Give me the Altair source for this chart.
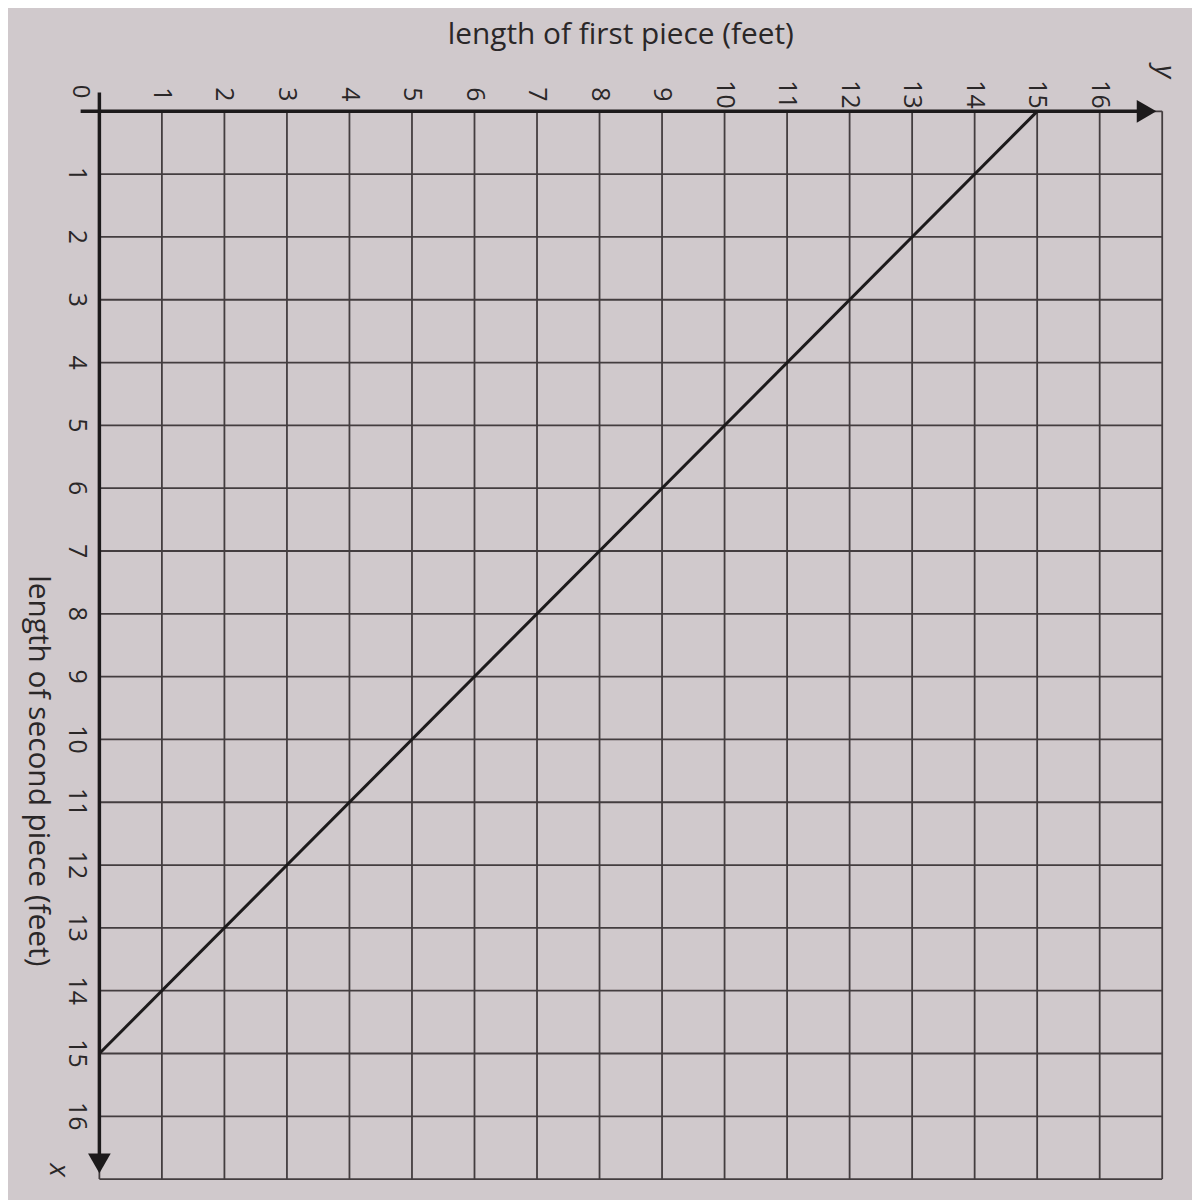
import altair as alt
import pandas as pd

# Data
grid_values = list(range(0, 18))
tick_labels = [str(i) for i in range(1, 17)]
tick_values = list(range(1, 17))
line_first = [15, 0]     # length of first piece (y)
line_second = [0, 15]    # length of second piece (x)

W, H = 1070, 1075
BG = "#d0c9cc"
GRID = "#433d3f"
INK = "#1c1a1b"
FONT = "Open Sans"

xs = alt.Scale(domain=[0, 17], nice=False, zero=False)
ys = alt.Scale(domain=[0, 17], nice=False, zero=False, reverse=True)

grid_df = pd.DataFrame({"v": grid_values})
vgrid = alt.Chart(grid_df).mark_rule(color=GRID, strokeWidth=1.8).encode(
    x=alt.X("v:Q", scale=xs, axis=None), y=alt.value(0), y2=alt.value(H))
hgrid = alt.Chart(grid_df).mark_rule(color=GRID, strokeWidth=1.8).encode(
    y=alt.Y("v:Q", scale=ys, axis=None), x=alt.value(0), x2=alt.value(W))

axis_df = pd.DataFrame({"a": [-0.3], "b": [16.8], "z": [0]})
haxis = alt.Chart(axis_df).mark_rule(color=INK, strokeWidth=3.5).encode(
    x=alt.X("a:Q", scale=xs), x2="b:Q", y=alt.Y("z:Q", scale=ys))
vaxis = alt.Chart(axis_df).mark_rule(color=INK, strokeWidth=3.5).encode(
    y=alt.Y("a:Q", scale=ys), y2="b:Q", x=alt.X("z:Q", scale=xs))

arr_r = alt.Chart(pd.DataFrame({"p": [16.75], "z": [0]})).mark_point(
    shape="triangle-right", filled=True, color=INK, size=520, opacity=1).encode(
    x=alt.X("p:Q", scale=xs), y=alt.Y("z:Q", scale=ys))
arr_d = alt.Chart(pd.DataFrame({"p": [16.75], "z": [0]})).mark_point(
    shape="triangle-down", filled=True, color=INK, size=520, opacity=1).encode(
    y=alt.Y("p:Q", scale=ys), x=alt.X("z:Q", scale=xs))

line_df = pd.DataFrame({"first": line_first, "second": line_second})
line = alt.Chart(line_df).mark_line(color=INK, strokeWidth=3).encode(
    x=alt.X("first:Q", scale=xs), y=alt.Y("second:Q", scale=ys), order="second:Q")

lab_df = pd.DataFrame({"v": tick_values, "t": tick_labels})
top_labels = alt.Chart(lab_df).mark_text(
    angle=90, align="center", baseline="middle", font=FONT, fontSize=25, color="#2a2728").encode(
    x=alt.X("v:Q", scale=xs), y=alt.value(-17), text="t:N")
left_labels = alt.Chart(lab_df).mark_text(
    angle=90, align="center", baseline="middle", font=FONT, fontSize=25, color="#2a2728").encode(
    y=alt.Y("v:Q", scale=ys), x=alt.value(-23), text="t:N")

def txt(s, x, y, angle=0, size=30, style="normal"):
    return alt.Chart(pd.DataFrame({"t": [s]})).mark_text(
        angle=angle, align="center", baseline="middle", font=FONT, fontSize=size,
        fontStyle=style, color="#2a2728").encode(x=alt.value(x), y=alt.value(y), text="t:N")

top_title = txt("length of first piece (feet)", 525, -77)
left_title = txt("length of second piece (feet)", -62, 664, angle=90)
y_lab = txt("y", 1072, -40, angle=90, size=28, style="italic")
x_lab = txt("x", -42, 1066, angle=90, size=28, style="italic")
zero_lab = txt("0", -20, -20, angle=90, size=24)

chart = alt.layer(
    vgrid, hgrid, line, haxis, vaxis, arr_r, arr_d,
    top_labels, left_labels, top_title, left_title, y_lab, x_lab, zero_lab
).properties(
    width=W, height=H,
    autosize=alt.AutoSizeParams(type="none"),
    padding={"left": 92, "top": 100, "right": 30, "bottom": 17},
    background=BG,
).configure_view(stroke=None)

chart.save("out.html", embed_options={"renderer": "svg", "actions": False})
